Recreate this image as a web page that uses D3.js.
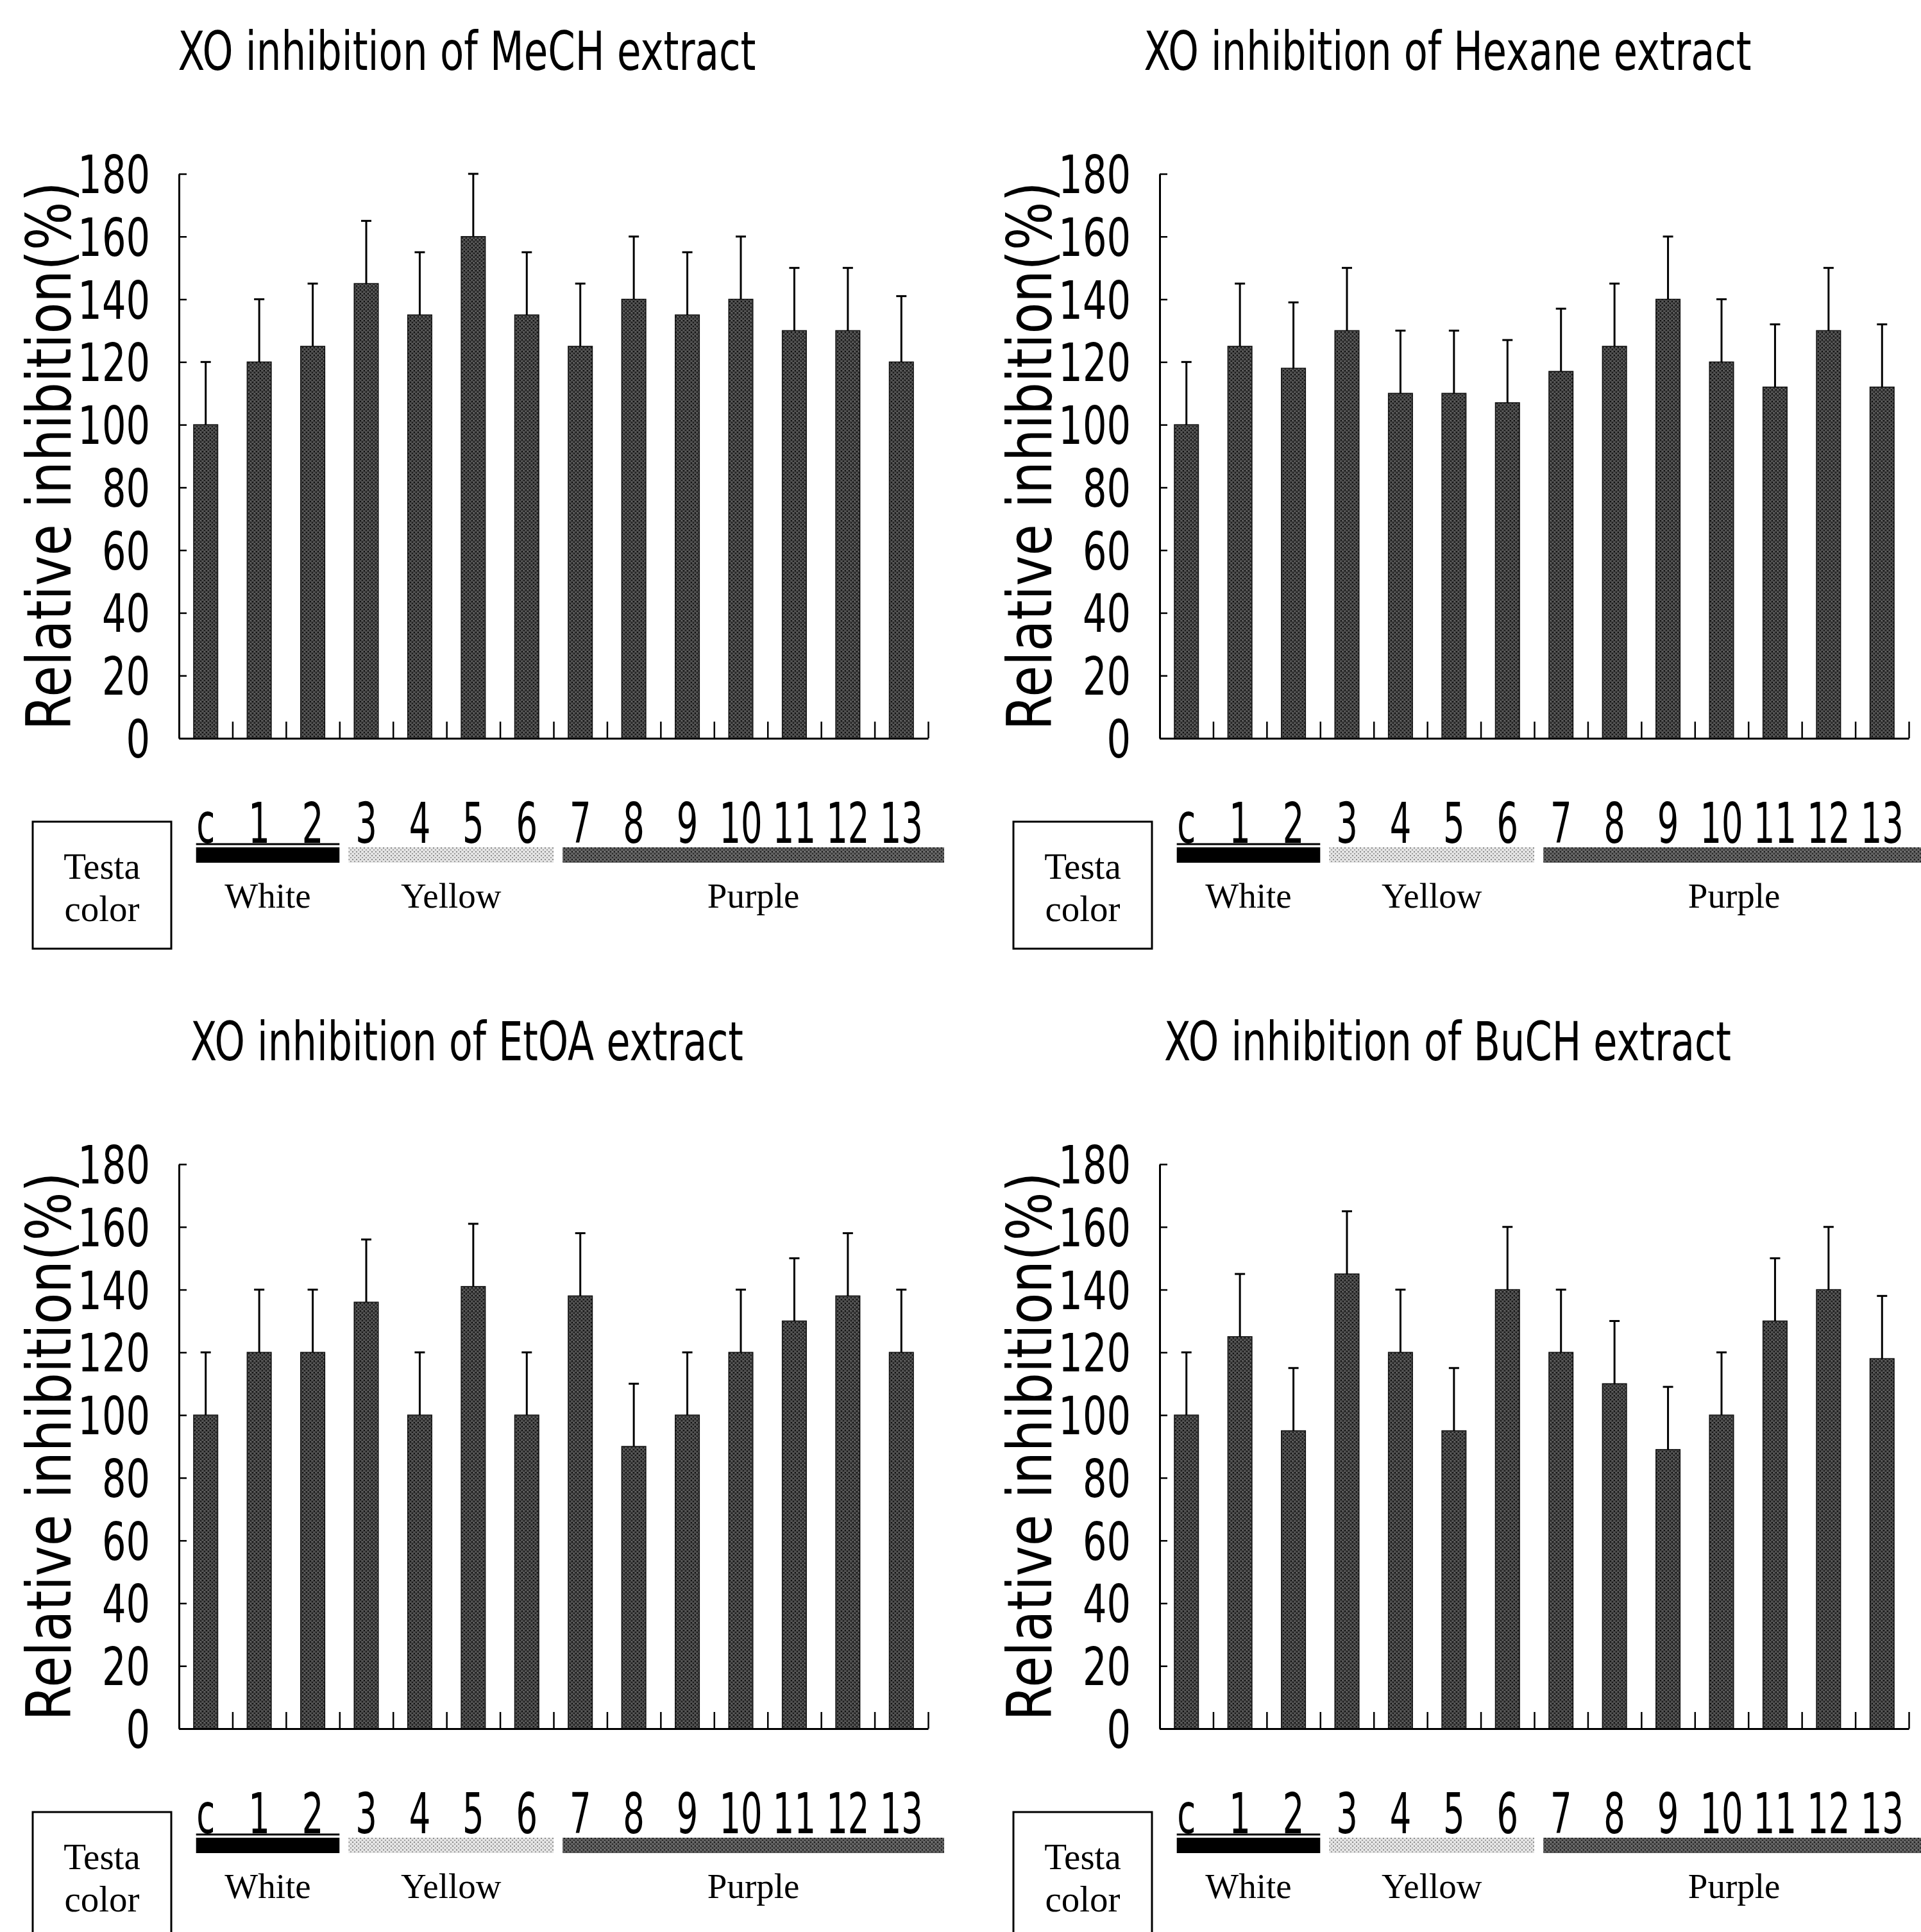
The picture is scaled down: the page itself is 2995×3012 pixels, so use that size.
<!DOCTYPE html>
<html>
<head>
<meta charset="utf-8">
<script src="https://cdn.jsdelivr.net/npm/d3@7"></script>
<style>
  body { margin: 0; background: #fff; }
</style>
</head>
<body>
<script>
// data
var categories = ["c", "1", "2", "3", "4", "5", "6", "7", "8", "9", "10", "11", "12", "13"];
var yTicks = [0, 20, 40, 60, 80, 100, 120, 140, 160, 180];

var meohMean = [100, 120, 125, 145, 135, 160, 135, 125, 140, 135, 140, 130, 130, 120];
var meohErr = [20, 20, 20, 20, 20, 20, 20, 20, 20, 20, 20, 20, 20, 21];

var hexaneMean = [100, 125, 118, 130, 110, 110, 107, 117, 125, 140, 120, 112, 130, 112];
var hexaneErr = [20, 20, 21, 20, 20, 20, 20, 20, 20, 20, 20, 20, 20, 20];

var etoaMean = [100, 120, 120, 136, 100, 141, 100, 138, 90, 100, 120, 130, 138, 120];
var etoaErr = [20, 20, 20, 20, 20, 20, 20, 20, 20, 20, 20, 20, 20, 20];

var buohMean = [100, 125, 95, 145, 120, 95, 140, 120, 110, 89, 100, 130, 140, 118];
var buohErr = [20, 20, 20, 20, 20, 20, 20, 20, 20, 20, 20, 20, 20, 20];

var titles = ["XO inhibition of MeCH extract", "XO inhibition of Hexane extract",
              "XO inhibition of EtOA extract", "XO inhibition of BuCH extract"];
var yLabel = "Relative inhibition(%)";

var groupNames = ["White", "Yellow", "Purple"];
var groupFirst = [0, 3, 7];
var groupLast = [2, 6, 13];
var testaText = ["Testa", "color"];

var panels = [
    {title: titles[0], mean: meohMean, err: meohErr},
    {title: titles[1], mean: hexaneMean, err: hexaneErr},
    {title: titles[2], mean: etoaMean, err: etoaErr},
    {title: titles[3], mean: buohMean, err: buohErr}
];

//layout
var svgWidth = 2995;
var svgHeight = 3012;
var panelW = 1168;
var panelH = 880;
var panelPos = [{x: 279, y: 271}, {x: 1808, y: 271}, {x: 279, y: 1815}, {x: 1808, y: 1815}];
var titleWidth = [901, 947, 862, 884];
var bandFill = ["#000", "url(#yellowFill)", "url(#purpleFill)"];
var sansFont = "'DejaVu Sans', sans-serif";
var serifFont = "'Liberation Serif', 'DejaVu Serif', serif";

var svg = d3.select("body").append("svg")
    .attr("width", svgWidth)
    .attr("height", svgHeight);

svg.append("rect").attr("width", svgWidth).attr("height", svgHeight).attr("fill", "#fff");

//halftone-like textures
var defs = svg.append("defs");

function makePattern(id, base, dots) {
    var p = defs.append("pattern")
        .attr("id", id)
        .attr("width", 6)
        .attr("height", 6)
        .attr("patternUnits", "userSpaceOnUse");
    p.append("rect").attr("width", 6).attr("height", 6).attr("fill", base);
    dots.forEach(function (d) {
        p.append("rect").attr("x", d[0]).attr("y", d[1]).attr("width", d[2]).attr("height", d[2]).attr("fill", d[3]);
    });
}

makePattern("barFill", "#474747", [[0, 0, 2, "#111"], [3, 3, 2, "#1c1c1c"], [3, 0, 1, "#8a8a8a"], [0, 4, 1, "#777"]]);
makePattern("yellowFill", "#e4e4e4", [[0, 0, 2, "#8a8a8a"], [3, 3, 2, "#a0a0a0"]]);
makePattern("purpleFill", "#5e5e5e", [[0, 0, 2, "#1a1a1a"], [3, 3, 2, "#2a2a2a"], [3, 0, 1, "#999"]]);

//squeeze a text horizontally to a wanted width (keeps it centred on cx)
function squeeze(sel, cx, cy, wanted, rotate) {
    var natural = sel.node().getComputedTextLength();
    var k = wanted / natural;
    sel.attr("transform", `translate(${cx}, ${cy})` + (rotate ? ` rotate(${rotate})` : "") + ` scale(${k}, 1)`);
}

panels.forEach(function (p, k) {
    var pos = panelPos[k];
    var g = svg.append("g").attr("transform", `translate(${pos.x}, ${pos.y})`);

    var x = d3.scaleBand()
        .domain(categories)
        .range([0, panelW])
        .paddingInner(0.55)
        .paddingOuter(0.275);
    var step = x.step();

    var xEdge = d3.scaleLinear().domain([0, categories.length]).range([0, panelW]);

    var y = d3.scaleLinear().domain([0, 180]).range([panelH, 0]);

    //title
    var title = g.append("text")
        .attr("text-anchor", "middle")
        .attr("font-family", sansFont)
        .attr("font-size", 84)
        .text(p.title);
    squeeze(title, 449, -162, titleWidth[k]);

    //y label
    var yl = g.append("text")
        .attr("text-anchor", "middle")
        .attr("font-family", sansFont)
        .attr("font-size", 96)
        .text(yLabel);
    squeeze(yl, -169, panelH / 2, 855, -90);

    //bars
    g.selectAll(".bar")
        .data(p.mean)
        .enter()
        .append("rect")
        .attr("class", "bar")
        .attr("x", (d, i) => x(categories[i]))
        .attr("y", d => y(d))
        .attr("width", x.bandwidth())
        .attr("height", d => panelH - y(d))
        .attr("fill", "url(#barFill)")
        .attr("stroke", "#111")
        .attr("stroke-width", 1.5);

    //error bars
    var eb = g.selectAll(".err")
        .data(p.mean)
        .enter()
        .append("g")
        .attr("class", "err")
        .attr("transform", (d, i) => `translate(${x(categories[i]) + x.bandwidth() / 2}, 0)`);

    eb.append("line")
        .attr("x1", 0).attr("x2", 0)
        .attr("y1", d => y(d))
        .attr("y2", (d, i) => y(d + p.err[i]))
        .attr("stroke", "#000")
        .attr("stroke-width", 3);

    eb.append("line")
        .attr("x1", -8).attr("x2", 8)
        .attr("y1", (d, i) => y(d + p.err[i]))
        .attr("y2", (d, i) => y(d + p.err[i]))
        .attr("stroke", "#000")
        .attr("stroke-width", 3);

    //axes
    var leftAxis = d3.axisLeft(y)
        .tickValues(yTicks)
        .tickSizeInner(-12)
        .tickSizeOuter(0)
        .tickPadding(0);

    var yAxis = g.append("g").call(leftAxis);
    yAxis.select(".domain").attr("stroke-width", 3);
    yAxis.selectAll(".tick line").attr("stroke-width", 2.5);
    yAxis.selectAll(".tick text")
        .attr("font-family", sansFont)
        .attr("font-size", 82)
        .attr("fill", "#000")
        .attr("x", -45 / 0.72)
        .attr("dy", "0.36em")
        .attr("transform", "scale(0.72,1)");

    var bottomAxis = d3.axisBottom(xEdge)
        .tickValues(d3.range(1, categories.length + 1))
        .tickSizeInner(-26)
        .tickSizeOuter(0)
        .tickFormat("");

    var xAxis = g.append("g")
        .attr("transform", `translate(0, ${panelH})`)
        .call(bottomAxis);
    xAxis.select(".domain").attr("stroke-width", 3);
    xAxis.selectAll(".tick line").attr("stroke-width", 2.5);

    //category labels
    g.selectAll(".cat")
        .data(categories)
        .enter()
        .append("text")
        .attr("class", "cat")
        .attr("transform", d => `translate(${x(d) + x.bandwidth() / 2}, ${panelH + 163}) scale(0.6,1)`)
        .attr("text-anchor", "middle")
        .attr("font-family", sansFont)
        .attr("font-size", 88)
        .text(d => d);

    //testa colour bands
    var bandStart = groupFirst.map((f, i) => f * step + (i === 0 ? 0.32 : 0.17) * step);
    var bandEnd = groupLast.map((l, i) => (l + 1) * step + (i === groupLast.length - 1 ? 0.3 : 0) * step);

    g.append("line")
        .attr("x1", bandStart[0]).attr("x2", bandEnd[0])
        .attr("y1", panelH + 165).attr("y2", panelH + 165)
        .attr("stroke", "#000").attr("stroke-width", 3);

    g.selectAll(".band")
        .data(groupNames)
        .enter()
        .append("rect")
        .attr("class", "band")
        .attr("x", (d, i) => bandStart[i])
        .attr("y", panelH + 170)
        .attr("width", (d, i) => bandEnd[i] - bandStart[i])
        .attr("height", 24)
        .attr("fill", (d, i) => bandFill[i]);

    g.selectAll(".grp")
        .data(groupNames)
        .enter()
        .append("text")
        .attr("class", "grp")
        .attr("x", (d, i) => (bandStart[i] + bandEnd[i]) / 2)
        .attr("y", panelH + 264)
        .attr("text-anchor", "middle")
        .attr("font-family", serifFont)
        .attr("font-size", 55)
        .text(d => d);

    //testa color box
    g.append("rect")
        .attr("x", -228)
        .attr("y", panelH + 130)
        .attr("width", 216)
        .attr("height", 198)
        .attr("fill", "none")
        .attr("stroke", "#000")
        .attr("stroke-width", 3);

    g.selectAll(".testa")
        .data(testaText)
        .enter()
        .append("text")
        .attr("class", "testa")
        .attr("x", -120)
        .attr("y", (d, i) => panelH + 219 + i * 66)
        .attr("text-anchor", "middle")
        .attr("font-family", serifFont)
        .attr("font-size", 57)
        .text(d => d);
});
</script>
</body>
</html>
